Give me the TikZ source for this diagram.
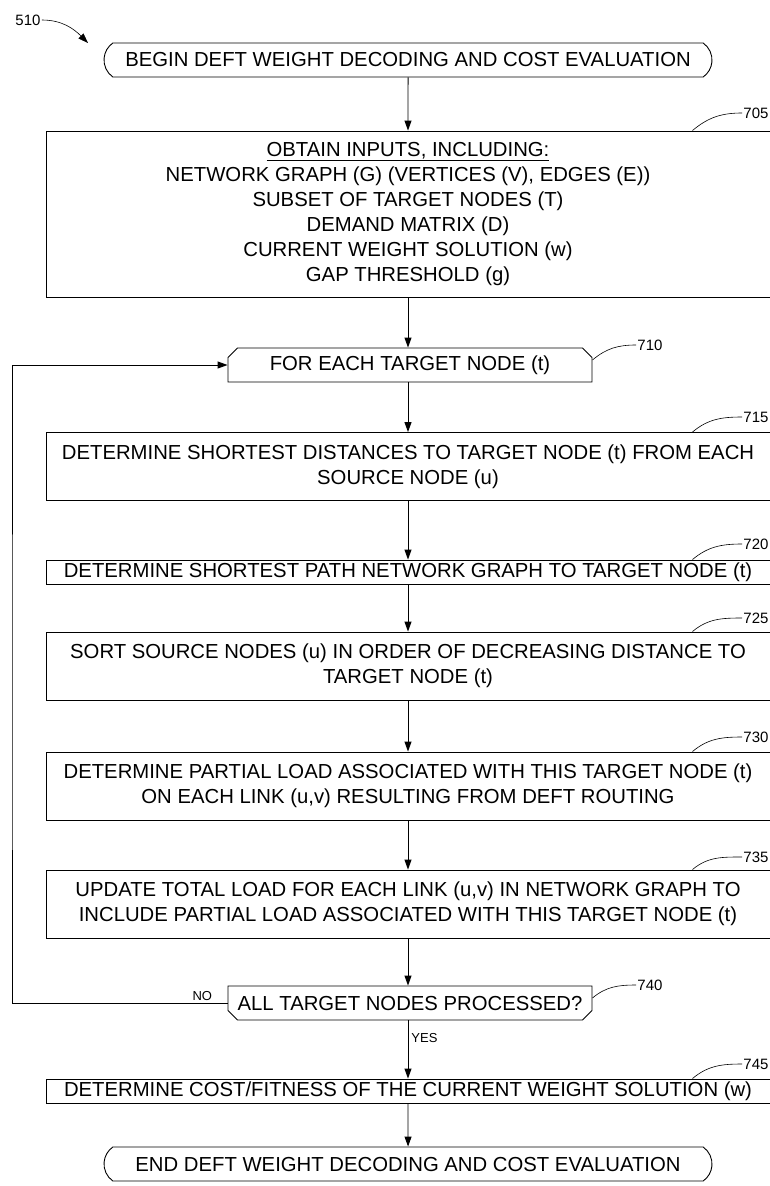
\documentclass[tikz,border=0pt]{standalone}
\usepackage{fontspec}
\setmainfont{Liberation Sans}
\usetikzlibrary{positioning, shapes.misc, arrows.meta}

\begin{document}
\begin{tikzpicture}[x=1pt, y=-1pt, >={Triangle[length=10pt,width=7pt]}, line width=0.9pt]
  \tikzstyle{box}=[draw, minimum width=724pt, align=center, inner sep=2pt, font=\fontsize{20.3}{25}\selectfont]
  \tikzstyle{term}=[box, rounded rectangle, rounded rectangle arc length=110, minimum width=612pt, minimum height=34pt]
  \tikzstyle{limit}=[box, chamfered rectangle, chamfered rectangle xsep=6pt, minimum width=364pt, minimum height=34pt]
  \tikzstyle{refnum}=[font=\fontsize{15}{15}\selectfont, anchor=west, inner sep=1pt]
  \tikzstyle{branch}=[font=\fontsize{13}{13}\selectfont, inner sep=1pt]
  \tikzstyle{lead}=[line width=0.6pt]
  \useasboundingbox (0,0) rectangle (770,1186);

  \node[term] (begin) at (408,60) {BEGIN DEFT WEIGHT DECODING AND COST EVALUATION};
  \node[box, minimum height=166pt] (inputs) at (408,214) {\underline{OBTAIN INPUTS, INCLUDING:}\\NETWORK GRAPH (G) (VERTICES (V), EDGES (E))\\SUBSET OF TARGET NODES (T)\\DEMAND MATRIX (D)\\CURRENT WEIGHT SOLUTION (w)\\GAP THRESHOLD (g)};
  \node[limit, chamfered rectangle corners={north west,north east}] (foreach) at (410,365) {FOR EACH TARGET NODE (t)};
  \node[box, minimum height=68pt] (dist) at (408,466.5) {DETERMINE SHORTEST DISTANCES TO TARGET NODE (t) FROM EACH\\SOURCE NODE (u)};
  \node[box, minimum height=24pt] (spg) at (408,572) {DETERMINE SHORTEST PATH NETWORK GRAPH TO TARGET NODE (t)};
  \node[box, minimum height=68pt] (sort) at (408,666) {SORT SOURCE NODES (u) IN ORDER OF DECREASING DISTANCE TO\\TARGET NODE (t)};
  \node[box, minimum height=68pt] (partial) at (408,786) {DETERMINE PARTIAL LOAD ASSOCIATED WITH THIS TARGET NODE (t)\\ON EACH LINK (u,v) RESULTING FROM DEFT ROUTING};
  \node[box, minimum height=68pt] (total) at (408,904) {UPDATE TOTAL LOAD FOR EACH LINK (u,v) IN NETWORK GRAPH TO\\INCLUDE PARTIAL LOAD ASSOCIATED WITH THIS TARGET NODE (t)};
  \node[limit, chamfered rectangle corners={south west,south east}] (done) at (410,1003) {ALL TARGET NODES PROCESSED?};
  \node[box, minimum height=24pt] (cost) at (408,1091) {DETERMINE COST/FITNESS OF THE CURRENT WEIGHT SOLUTION (w)};
  \node[term] (finish) at (408,1164) {END DEFT WEIGHT DECODING AND COST EVALUATION};

  % reference numerals
  \node[refnum] (l510) at (14,20) {510};
  \coordinate (tip510) at (88,43);
  \node[refnum] (l705) at (742,113) {705};
  \node[refnum] (l710) at (636,345) {710};
  \node[refnum] (l715) at (742,417) {715};
  \node[refnum] (l720) at (742,544) {720};
  \node[refnum] (l725) at (742,618) {725};
  \node[refnum] (l730) at (742,737) {730};
  \node[refnum] (l735) at (742,857) {735};
  \node[refnum] (l740) at (636,985) {740};
  \node[refnum] (l745) at (742,1064) {745};

  \draw[lead, ->] (l510.east) to[out=0, in=135] (tip510);
  \draw[lead] ([xshift=-78pt]inputs.north east) to[out=40, in=180] (l705.west);
  \draw[lead] ([yshift=5pt]foreach.east) to[out=40, in=180] (l710.west);
  \draw[lead] ([xshift=-78pt]dist.north east) to[out=40, in=180] (l715.west);
  \draw[lead] ([xshift=-78pt]spg.north east) to[out=40, in=180] (l720.west);
  \draw[lead] ([xshift=-78pt]sort.north east) to[out=40, in=180] (l725.west);
  \draw[lead] ([xshift=-78pt]partial.north east) to[out=40, in=180] (l730.west);
  \draw[lead] ([xshift=-78pt]total.north east) to[out=40, in=180] (l735.west);
  \draw[lead] ([yshift=5pt]done.east) to[out=40, in=180] (l740.west);
  \draw[lead] ([xshift=-78pt]cost.north east) to[out=40, in=180] (l745.west);

  % flow
  \draw[->] (begin) -- (inputs);
  \draw[->] (inputs) -- (inputs |- foreach.north);
  \draw[->] (inputs |- foreach.south) -- (dist);
  \draw[->] (dist) -- (spg);
  \draw[->] (spg) -- (sort);
  \draw[->] (sort) -- (partial);
  \draw[->] (partial) -- (total);
  \draw[->] (total) -- (total |- done.north);
  \draw[->] (total |- done.south) -- node[branch, right=2pt, pos=0.3] {YES} (cost);
  \draw[->] (cost) -- (finish);

  % loop back
  \coordinate (back) at (12,700);
  \draw[->] (done.west) -| (back) |- (foreach.west);
  \node[branch, above left=1pt and 14pt of done.west] (no) {NO};
\end{tikzpicture}
\end{document}
